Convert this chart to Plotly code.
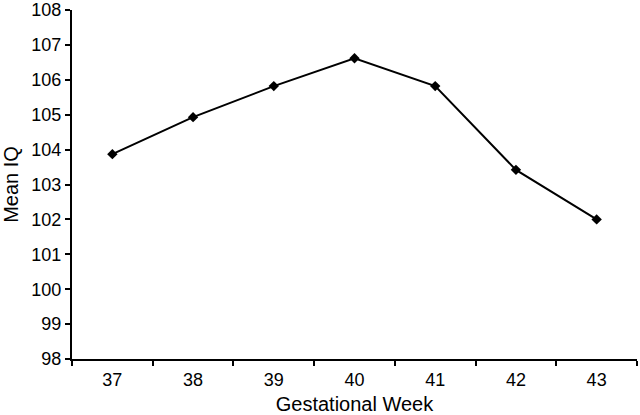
import plotly.graph_objects as go

weeks = ["37", "38", "39", "40", "41", "42", "43"]
mean_iq = [103.87, 104.93, 105.82, 106.62, 105.82, 103.42, 102.0]
y_ticks = list(range(98, 109))

fig = go.Figure(go.Scatter(
    x=weeks, y=mean_iq, mode="lines+markers",
    line=dict(color="black", width=2),
    marker=dict(symbol="diamond", size=8, color="black"),
))

font = dict(family="Liberation Sans, Arial, sans-serif", color="black")
fig.update_layout(
    width=640, height=415, paper_bgcolor="white", plot_bgcolor="white",
    margin=dict(l=72, r=3, t=10, b=56), showlegend=False,
    font=dict(size=18, **font),
)
fig.update_xaxes(
    type="category", tickson="boundaries", range=[-0.5, 6.5],
    showline=True, linecolor="black", linewidth=2,
    ticks="outside", ticklen=5, tickwidth=2, tickcolor="black",
    showgrid=False, zeroline=False, tickfont=dict(size=18),
    ticklabelstandoff=3,
    title=dict(text="Gestational Week", font=dict(size=20), standoff=8),
    automargin=False,
)
fig.update_yaxes(
    range=[98, 108.001], tickvals=y_ticks,
    showline=True, linecolor="black", linewidth=2,
    ticks="outside", ticklen=5, tickwidth=2, tickcolor="black",
    showgrid=False, zeroline=False, tickfont=dict(size=18),
    ticklabeloverflow="allow",
    title=dict(text="Mean IQ", font=dict(size=20), standoff=10),
    automargin=False,
)
fig.write_html("out.html", config={"displayModeBar": False},
               post_script="document.body.style.margin='0';")
